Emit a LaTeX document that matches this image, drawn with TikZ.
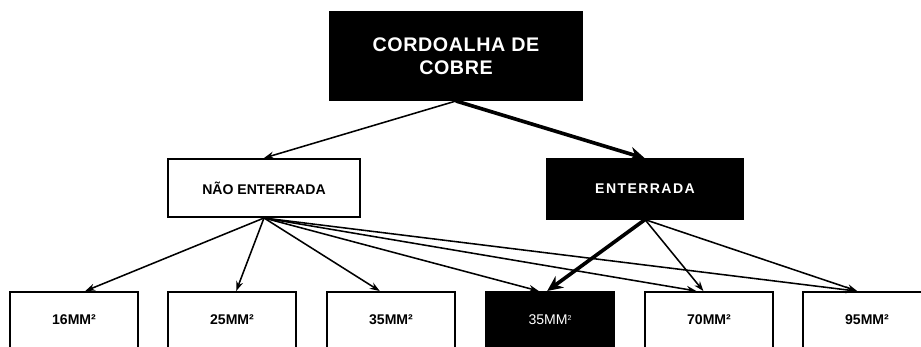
\documentclass[tikz,border=0pt]{standalone}
\usepackage{fontspec}
\setmainfont{Liberation Sans}
\usetikzlibrary{arrows.meta}

\tikzset{
	box/.style={draw=black, line width=1.4pt, inner sep=0pt, align=center,
		font=\bfseries\fontsize{10}{12}\selectfont},
	blackbox/.style={box, fill=black, text=white},
	sizebox/.style={box, minimum width=3.2cm, text height=0.8cm, text depth=1.6cm, anchor=base},
	link/.style={-{Stealth[length=7pt,width=5pt]}, line width=1.1pt},
	mainlink/.style={-{Stealth[length=11pt,width=10pt]}, line width=2.6pt},
}

\begin{document}
\begin{tikzpicture}[x=0.025cm, y=-0.025cm]
	\useasboundingbox (0,0) rectangle (921,347);

	\node[blackbox, minimum width=6.3cm, minimum height=2.2cm,
		font=\bfseries\fontsize{14}{16}\selectfont\addfontfeatures{LetterSpace=3}]
		(cordoalha) at (456,56) {CORDOALHA DE\\COBRE};
	\node[box, minimum width=4.8cm, minimum height=1.45cm] (nao) at (264,188) {NÃO ENTERRADA};
	\node[blackbox, minimum width=4.9cm, minimum height=1.48cm,
		font=\bfseries\fontsize{10}{12}\selectfont\addfontfeatures{LetterSpace=10}]
		(enterrada) at (645,189) {ENTERRADA};

	\node[sizebox] (mm16) at (74,324)  {16MM²};
	\node[sizebox] (mm25) at (232,324) {25MM²};
	\node[sizebox] (mm35) at (391,324) {35MM²};
	\node[sizebox, fill=black, text=white, font=\fontsize{10}{12}\selectfont]
		(mm35b) at (550,324) {35MM\raisebox{0.5ex}{\fontsize{5}{6}\selectfont 2}};
	\node[sizebox] (mm70) at (709,324) {70MM²};
	\node[sizebox] (mm95) at (867,324) {95MM²};

	% ligacoes
	\draw[link] (cordoalha.south) -- (nao.north);
	\draw[mainlink] (cordoalha.south) -- (enterrada.north);

	\draw[link] (nao.south) -- ([xshift=8]mm16.north);
	\draw[link] (nao.south) -- ([xshift=3]mm25.north);
	\draw[link] (nao.south) -- ([xshift=-8]mm35.north);
	\draw[link] (nao.south) -- ([xshift=-8]mm35b.north);
	\draw[link] (nao.south) -- ([xshift=-9]mm70.north);
	\draw[link] (nao.south) -- ([xshift=-8]mm95.north);

	\draw[mainlink] (enterrada.south) -- ([xshift=-2]mm35b.north);
	\draw[link] (enterrada.south) -- ([xshift=-4]mm70.north);
	\draw[link] (enterrada.south) -- ([xshift=-7]mm95.north);
\end{tikzpicture}
\end{document}
